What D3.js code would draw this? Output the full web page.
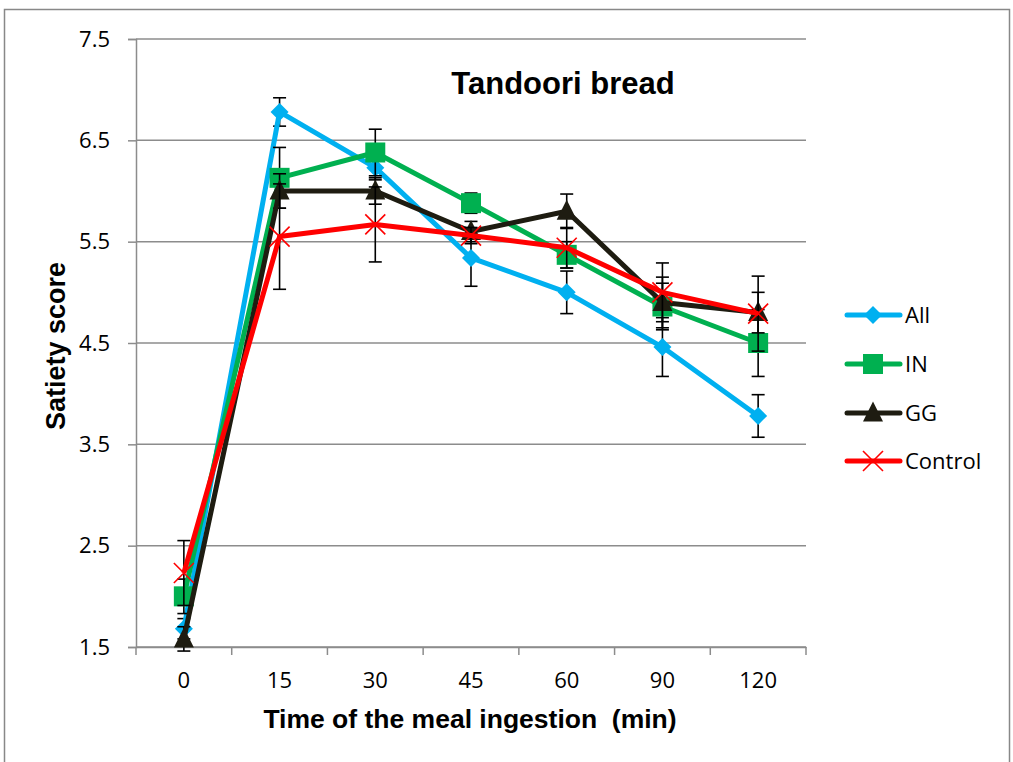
<!DOCTYPE html>
<html><head><meta charset="utf-8">
<script src="https://cdn.jsdelivr.net/npm/d3@7"></script>
<style>body{margin:0;background:#fff}</style>
</head><body>
<svg id="chart" width="1013" height="762"></svg>
<script>
const categories = ["0","15","30","45","60","90","120"];
const seriesNames = ["All","IN","GG","Control"];
const allValues = [1.68, 6.78, 6.23, 5.34, 5.00, 4.46, 3.78];
const inValues = [2.00, 6.13, 6.38, 5.88, 5.37, 4.86, 4.50];
const ggValues = [1.58, 6.00, 6.00, 5.60, 5.80, 4.90, 4.80];
const controlValues = [2.23, 5.55, 5.67, 5.56, 5.44, 5.00, 4.79];
const allErr = [0.10, 0.14, 0.12, 0.28, 0.21, 0.29, 0.21];
const inErr = [0.17, 0.30, 0.23, 0.10, 0.13, 0.23, 0.33];
const ggErr = [0.12, 0.17, 0.13, 0.10, 0.17, 0.25, 0.20];
const controlErr = [0.32, 0.52, 0.37, 0.08, 0.20, 0.29, 0.37];
const yTicks = [1.5, 2.5, 3.5, 4.5, 5.5, 6.5, 7.5];
const colors = ["#00B0F0", "#00B050", "#1E1C11", "#FF0000"];
const markers = ["diamond", "square", "triangle", "cross"];

const values = [allValues, inValues, ggValues, controlValues];
const errs = [allErr, inErr, ggErr, controlErr];

const svg = d3.select("#chart");
const tickFont = "'Open Sans', 'Noto Sans', sans-serif";
const boldFont = "'Liberation Sans', Arial, sans-serif";

svg.append("rect").attr("x", 4.5).attr("y", 9.5).attr("width", 1005).attr("height", 760)
  .attr("fill", "#fff").attr("stroke", "#888").attr("stroke-width", 1.5);

const pL = 136, pR = 806, pT = 39, pB = 647;
const x = d3.scaleBand().domain(categories).range([pL, pR]);
const y = d3.scaleLinear().domain([1.5, 7.5]).range([pB, pT]);

// gridlines
svg.append("g").selectAll("line").data(yTicks).join("line")
  .attr("x1", pL).attr("x2", pR)
  .attr("y1", d => y(d)).attr("y2", d => y(d))
  .attr("stroke", "#8c8c8c").attr("stroke-width", 1.5);

// y axis
const yAxis = svg.append("g").attr("transform", `translate(${pL},0)`)
  .call(d3.axisLeft(y).tickValues(yTicks).tickFormat(d3.format(".1f")).tickSize(8).tickPadding(18));
yAxis.select(".domain").attr("stroke", "#8c8c8c").attr("stroke-width", 1.5);
yAxis.selectAll(".tick line").attr("stroke", "#8c8c8c").attr("stroke-width", 1.5);
yAxis.selectAll("text").attr("font-family", tickFont).attr("font-size", 22).attr("fill", "#000");

// x axis
const xAxis = svg.append("g").attr("transform", `translate(0,${pB})`)
  .call(d3.axisBottom(x).tickSize(0).tickPadding(25));
xAxis.select(".domain").attr("stroke", "#8c8c8c").attr("stroke-width", 1.5);
xAxis.selectAll("text").attr("font-family", tickFont).attr("font-size", 22).attr("fill", "#000");
const boundaries = categories.map(c => x(c)).concat([x(categories[categories.length-1]) + x.bandwidth()]);
svg.append("g").selectAll("line").data(boundaries).join("line")
  .attr("x1", d => d).attr("x2", d => d).attr("y1", pB).attr("y2", pB + 8)
  .attr("stroke", "#8c8c8c").attr("stroke-width", 1.5);

const cx = c => x(c) + x.bandwidth() / 2;

function drawMarker(g, type, color, px, py, s) {
  if (type === "diamond") {
    g.append("path").attr("d", `M${px},${py-s}L${px+s},${py}L${px},${py+s}L${px-s},${py}Z`).attr("fill", color);
  } else if (type === "square") {
    g.append("rect").attr("x", px-s).attr("y", py-s).attr("width", 2*s).attr("height", 2*s).attr("fill", color);
  } else if (type === "triangle") {
    g.append("path").attr("d", `M${px},${py-s*1.15}L${px+s},${py+s*0.85}L${px-s},${py+s*0.85}Z`).attr("fill", color);
  } else {
    g.append("path").attr("d", `M${px-s},${py-s}L${px+s},${py+s}M${px-s},${py+s}L${px+s},${py-s}`)
      .attr("stroke", color).attr("stroke-width", 1.6).attr("fill", "none");
  }
}

const line = d3.line().x((d, i) => cx(categories[i])).y(d => y(d));
const sizes = [9, 10, 10, 10];

values.forEach((vals, si) => {
  const g = svg.append("g");
  vals.forEach((v, i) => {
    const px = cx(categories[i]);
    const e = errs[si][i];
    g.append("line").attr("x1", px).attr("x2", px).attr("y1", y(v + e)).attr("y2", y(v - e))
      .attr("stroke", "#000").attr("stroke-width", 1.6);
    [v + e, v - e].forEach(t => g.append("line").attr("x1", px - 6.5).attr("x2", px + 6.5)
      .attr("y1", y(t)).attr("y2", y(t)).attr("stroke", "#000").attr("stroke-width", 1.6));
  });
  g.append("path").datum(vals).attr("d", line).attr("fill", "none")
    .attr("stroke", colors[si]).attr("stroke-width", 5).attr("stroke-linejoin", "round");
  vals.forEach((v, i) => drawMarker(g, markers[si], colors[si], cx(categories[i]), y(v), sizes[si]));
});

// title
svg.append("text").attr("x", 563).attr("y", 94).attr("text-anchor", "middle")
  .attr("font-family", boldFont).attr("font-weight", "bold").attr("font-size", 31).text("Tandoori bread");

// axis titles
svg.append("text").attr("x", 470).attr("y", 728).attr("text-anchor", "middle")
  .attr("font-family", boldFont).attr("font-weight", "bold").attr("font-size", 26.5)
  .style("white-space", "pre").text("Time of the meal ingestion  (min)");
svg.append("text").attr("transform", "translate(65,346) rotate(-90)").attr("text-anchor", "middle")
  .attr("font-family", boldFont).attr("font-weight", "bold").attr("font-size", 27).text("Satiety score");

// legend
const legY = [315, 364, 413, 461];
seriesNames.forEach((n, i) => {
  const g = svg.append("g");
  g.append("line").attr("x1", 847).attr("x2", 900).attr("y1", legY[i]).attr("y2", legY[i])
    .attr("stroke", colors[i]).attr("stroke-width", 5).attr("stroke-linecap", "round");
  drawMarker(g, markers[i], colors[i], 873, legY[i], sizes[i]);
  g.append("text").attr("x", 905).attr("y", legY[i] + 8).attr("font-family", tickFont)
    .attr("font-size", 22).text(n);
});
</script>
</body></html>
